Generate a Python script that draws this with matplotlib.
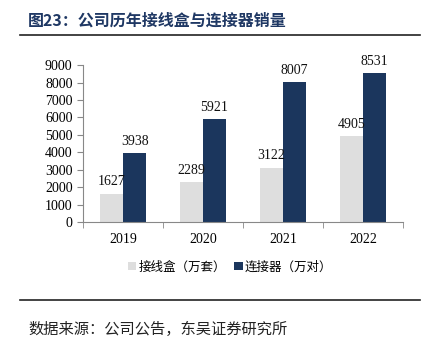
import numpy as np
import matplotlib.pyplot as plt

plt.rcParams['font.family'] = ['Liberation Serif', 'Noto Sans CJK SC']

years = ["2019", "2020", "2021", "2022"]
junction_box = [1627, 2289, 3122, 4905]
connector = [3938, 5921, 8007, 8531]
series_names = ["接线盒（万套）", "连接器（万对）"]

light = "#DEDEDE"
dark = "#1B365D"
title_color = "#1F3864"

fig = plt.figure(figsize=(4.3, 3.43), dpi=100)

fig.text(0.065, 0.94, "图23：公司历年接线盒与连接器销量", fontsize=11.5,
         fontweight="bold", color=title_color, va="center",
         family=["Noto Sans CJK SC"])
fig.add_artist(plt.Line2D([0.047, 0.977], [0.898, 0.898], color="#222222", lw=1.2))
fig.add_artist(plt.Line2D([0.047, 0.977], [0.125, 0.125], color="#222222", lw=1.2))
fig.text(0.065, 0.04, "数据来源：公司公告，东吴证券研究所", fontsize=11,
         color="#222222", va="center", family=["Noto Sans CJK SC"])

ax = fig.add_axes([0.193, 0.353, 0.744, 0.457])
x = np.arange(len(years))
w = 0.29
b1 = ax.bar(x - w / 2, junction_box, w, color=light, label=series_names[0])
b2 = ax.bar(x + w / 2, connector, w, color=dark, label=series_names[1])
for bars, vals in ((b1, junction_box), (b2, connector)):
    for rect, v in zip(bars, vals):
        ax.text(rect.get_x() + rect.get_width() / 2, v + 300, str(v),
                ha="center", va="bottom", fontsize=10, color="#111111")

ax.set_xlim(-0.5, len(years) - 0.5)
ax.set_ylim(0, 9000)
ax.set_yticks(range(0, 9001, 1000))
ax.set_xticks(x)
ax.set_xticklabels(years)
ax.set_xticks(np.arange(-0.5, len(years)), minor=True)
ax.tick_params(axis="x", which="major", length=0, labelsize=10, pad=8)
ax.tick_params(axis="x", which="minor", length=4, color="#888888", direction="out")
ax.tick_params(axis="y", length=4, color="#888888", labelsize=10, direction="out")
for s in ("top", "right"):
    ax.spines[s].set_visible(False)
for s in ("left", "bottom"):
    ax.spines[s].set_color("#888888")
    ax.spines[s].set_linewidth(0.8)

leg = fig.legend(loc="center", bbox_to_anchor=(0.535, 0.222), ncol=2, frameon=False,
                 handlelength=0.7, handleheight=0.7,
                 handletextpad=0.2, columnspacing=0.6,
                 prop={"family": ["Noto Sans CJK SC"], "size": 9})

fig.savefig("out.png", dpi=100)
